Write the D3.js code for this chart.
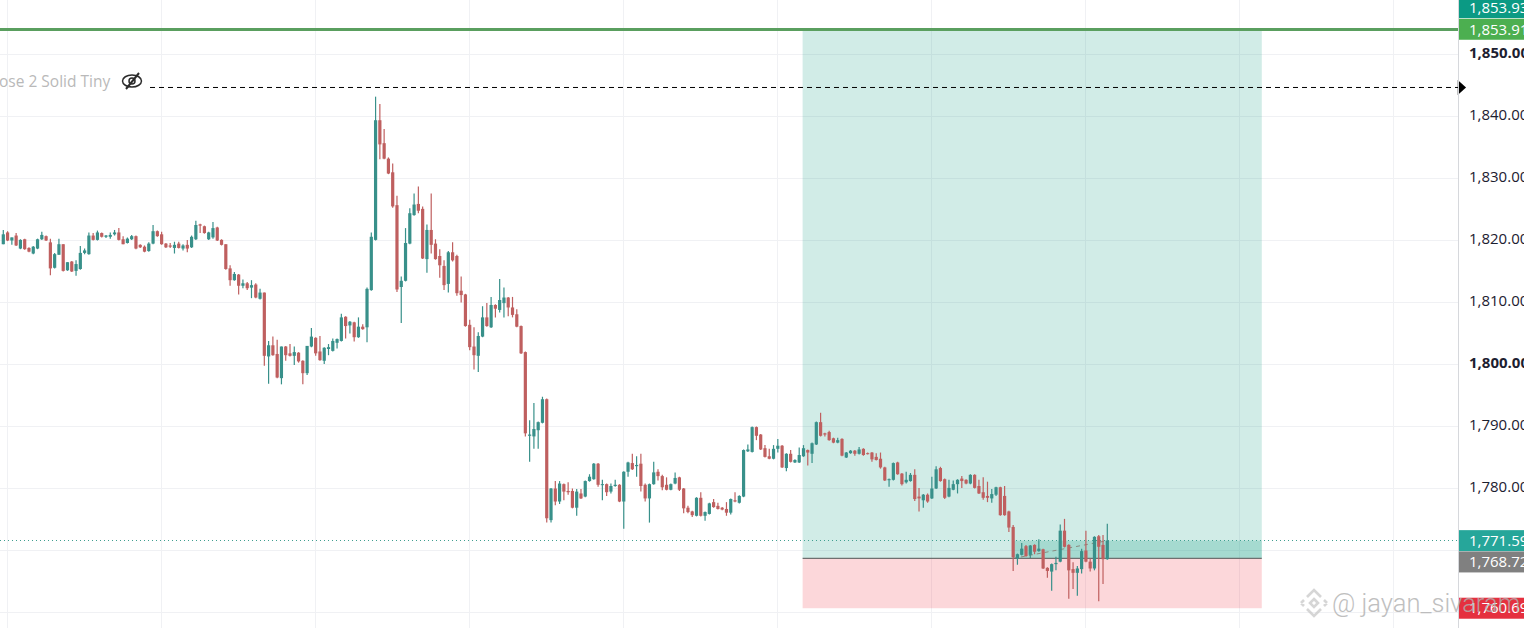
<!DOCTYPE html>
<html>
<head>
<meta charset="utf-8">
<script src="https://cdn.jsdelivr.net/npm/d3@7/dist/d3.min.js"></script>
<style>
html, body { margin: 0; padding: 0; background: #fff; overflow: hidden; }
svg { display: block; font-family: "Open Sans", sans-serif; }
</style>
</head>
<body>
<div id="chart"></div>
<script>
const opens = [
1819.4,1821.3,1820.0,1820.8,1818.7,1820.2,1818.8,1817.9,1818.7,1820.2,
1820.7,1819.7,1815.6,1817.7,1819.4,1815.2,1816.6,1815.1,1815.4,1818.0,
1817.8,1820.8,1820.1,1821.2,1820.6,1820.6,1821.0,1821.3,1820.2,1819.6,
1820.2,1820.7,1819.3,1819.0,1818.3,1819.5,1821.5,1821.0,1819.5,1819.2,
1818.8,1819.5,1818.7,1819.3,1818.9,1820.2,1822.6,1822.3,1820.2,1820.5,
1822.1,1820.1,1819.4,1815.5,1813.6,1814.5,1812.7,1813.1,1812.4,1812.9,
1810.6,1811.6,1801.3,1803.1,1801.7,1797.8,1802.9,1801.8,1801.4,1801.9,
1800.6,1798.6,1802.9,1804.3,1802.1,1800.6,1802.5,1802.2,1803.5,1803.8,
1807.7,1806.3,1806.8,1804.4,1806.1,1806.0,1812.0,1820.1,1839.4,1835.7,
1833.2,1831.0,1825.7,1812.5,1813.5,1819.5,1824.1,1825.9,1825.1,1817.0,
1821.7,1819.5,1817.5,1815.9,1813.0,1818.1,1817.5,1811.9,1811.3,1806.4,
1802.9,1801.4,1804.5,1807.6,1806.0,1809.6,1808.8,1809.9,1810.8,1809.2,
1808.1,1806.2,1802.0,1788.5,1788.4,1789.4,1790.6,1794.4,1774.9,1780.0,
1777.9,1780.7,1779.6,1779.6,1776.9,1779.2,1778.7,1781.2,1781.5,1784.0,
1780.6,1780.7,1779.5,1780.4,1780.6,1777.9,1782.7,1784.1,1783.6,1784.0,
1780.6,1778.4,1780.7,1782.7,1782.0,1780.6,1779.8,1780.8,1781.8,1780.0,
1776.9,1776.3,1775.6,1778.5,1775.6,1775.9,1777.8,1777.2,1776.9,1776.7,
1776.1,1778.1,1777.7,1778.7,1786.0,1785.9,1789.9,1788.7,1786.5,1785.2,
1784.8,1786.4,1786.9,1783.3,1785.6,1784.2,1784.2,1785.2,1786.2,1785.6,
1787.1,1790.7,1788.9,1789.1,1788.1,1787.4,1788.0,1785.0,1785.7,1786.1,
1785.6,1786.4,1785.7,1785.8,1785.1,1784.8,1783.4,1781.4,1781.4,1784.2,
1782.4,1781.0,1781.2,1782.2,1778.7,1778.1,1779.0,1778.4,1780.0,1783.3,
1781.5,1778.7,1779.8,1780.7,1781.6,1781.4,1780.8,1782.2,1780.4,1779.4,
1778.8,1778.4,1779.0,1780.2,1778.8,1776.3,1773.8,1768.7,1769.3,1770.7,
1769.3,1770.9,1769.9,1770.2,1767.2,1766.6,1767.8,1768.2,1773.2,1770.9,
1767.0,1766.4,1767.0,1770.0,1768.2,1767.1,1772.3,1770.9,1768.6];

const highs = [
1821.7,1821.5,1820.5,1821.2,1820.2,1820.3,1818.9,1819.1,1820.3,1821.4,
1820.8,1820.3,1818.0,1820.3,1819.4,1816.5,1816.7,1816.8,1819.1,1818.7,
1821.3,1821.2,1821.6,1821.3,1820.9,1821.3,1821.7,1822.0,1820.7,1820.5,
1820.9,1820.8,1819.4,1819.2,1819.7,1822.5,1821.6,1821.4,1819.6,1819.6,
1819.8,1819.8,1819.4,1820.1,1820.8,1823.2,1822.7,1822.4,1821.4,1823.0,
1822.2,1820.2,1819.4,1816.0,1814.9,1814.6,1813.7,1813.3,1813.6,1813.1,
1812.2,1811.6,1803.8,1804.5,1804.0,1802.9,1803.0,1803.3,1802.9,1802.0,
1800.7,1803.0,1805.9,1804.4,1804.6,1802.8,1803.3,1804.2,1804.2,1808.2,
1807.8,1807.0,1806.9,1807.6,1806.5,1812.4,1821.3,1843.2,1842.0,1838.0,
1833.4,1832.4,1827.2,1814.2,1822.0,1825.2,1827.6,1828.7,1825.5,1822.6,
1827.6,1820.2,1818.6,1816.8,1818.3,1819.7,1817.7,1814.2,1811.4,1807.2,
1806.0,1805.2,1809.4,1809.9,1810.9,1809.7,1813.8,1812.4,1810.9,1810.9,
1808.9,1806.3,1802.1,1791.0,1793.8,1790.8,1794.8,1794.5,1780.1,1781.2,
1781.2,1780.8,1781.0,1780.0,1779.9,1779.9,1781.3,1782.3,1784.1,1784.1,
1781.4,1780.8,1780.8,1781.4,1780.7,1782.8,1784.3,1785.6,1785.2,1785.6,
1780.8,1780.8,1784.3,1783.1,1782.2,1781.8,1780.8,1782.6,1781.9,1780.1,
1777.2,1776.4,1778.6,1779.4,1776.3,1777.7,1778.3,1777.7,1777.0,1777.8,
1778.4,1779.4,1778.9,1786.3,1787.1,1790.0,1790.0,1788.8,1787.0,1786.4,
1787.0,1788.0,1787.0,1785.7,1786.2,1784.7,1786.6,1787.0,1786.3,1787.4,
1790.8,1792.2,1789.0,1789.3,1788.2,1788.2,1788.1,1785.9,1786.2,1786.2,
1786.7,1786.5,1785.8,1785.9,1785.7,1785.8,1783.5,1781.6,1784.2,1784.3,
1782.5,1782.7,1782.5,1783.1,1780.1,1779.1,1779.2,1781.9,1783.6,1783.5,
1781.6,1781.4,1781.3,1781.5,1782.0,1781.5,1782.3,1782.3,1781.4,1781.8,
1781.1,1779.9,1780.3,1780.3,1780.4,1776.4,1774.1,1769.5,1771.2,1770.9,
1770.9,1771.0,1771.8,1770.3,1767.3,1767.9,1769.0,1774.2,1775.1,1771.0,
1768.1,1767.5,1770.3,1773.2,1768.7,1772.3,1772.5,1772.5,1774.3];

const lows = [
1819.4,1819.9,1819.3,1819.1,1818.6,1818.5,1818.1,1817.8,1818.6,1820.1,
1819.9,1814.4,1815.5,1817.7,1815.0,1815.1,1814.9,1814.3,1815.3,1817.8,
1817.7,1820.0,1820.0,1820.5,1820.4,1820.3,1820.8,1820.0,1819.4,1819.5,
1820.1,1818.6,1818.8,1818.1,1818.2,1819.4,1820.6,1819.3,1818.8,1818.8,
1817.9,1818.7,1818.4,1818.1,1818.8,1820.1,1821.2,1821.1,1820.1,1820.3,
1819.9,1819.2,1815.3,1812.7,1813.5,1811.3,1812.3,1812.0,1810.7,1810.7,
1810.5,1799.8,1796.9,1801.4,1797.8,1796.8,1800.6,1801.3,1799.9,1800.3,
1796.8,1798.3,1802.8,1801.4,1800.6,1800.1,1801.5,1802.1,1802.6,1803.7,
1804.2,1805.0,1803.7,1804.3,1805.6,1803.6,1811.9,1820.0,1833.1,1833.1,
1830.7,1825.3,1811.7,1806.7,1813.4,1819.4,1824.0,1824.4,1817.0,1814.8,
1817.9,1816.9,1814.0,1812.0,1811.6,1816.6,1811.1,1810.0,1806.1,1802.3,
1799.2,1798.8,1804.4,1806.1,1805.9,1807.6,1808.4,1807.6,1807.8,1807.6,
1806.0,1801.7,1788.4,1784.3,1786.4,1786.4,1790.5,1774.5,1774.5,1777.3,
1777.5,1778.1,1779.0,1776.8,1775.6,1778.3,1778.6,1781.1,1781.4,1780.3,
1778.1,1778.8,1779.2,1780.3,1777.8,1773.5,1781.9,1783.0,1781.9,1779.5,
1777.9,1774.5,1780.6,1781.3,1779.7,1779.7,1779.7,1780.7,1779.6,1776.0,
1776.0,1775.4,1775.5,1775.5,1774.8,1775.8,1776.9,1776.6,1776.5,1775.6,
1775.8,1777.8,1777.6,1778.6,1785.9,1785.8,1787.8,1786.2,1785.0,1784.7,
1784.7,1785.8,1783.3,1782.8,1784.2,1784.1,1784.1,1785.1,1783.7,1784.1,
1787.0,1788.4,1788.4,1787.7,1787.3,1787.3,1785.2,1784.9,1785.6,1785.3,
1785.5,1785.3,1785.5,1784.3,1784.5,1783.2,1781.2,1780.3,1781.3,1782.2,
1780.5,1780.8,1781.1,1778.0,1776.3,1776.9,1777.7,1778.3,1779.9,1781.1,
1778.3,1778.6,1779.7,1779.2,1780.1,1780.7,1780.7,1780.0,1779.1,1778.2,
1777.8,1777.7,1778.8,1775.6,1775.6,1773.0,1766.7,1767.7,1769.2,1769.0,
1768.8,1769.4,1769.8,1767.0,1765.6,1763.5,1766.8,1768.1,1770.5,1762.2,
1763.8,1762.7,1766.3,1768.1,1766.6,1766.8,1761.8,1764.6,1768.5];

const closes = [
1821.0,1820.0,1820.5,1819.2,1820.1,1818.6,1818.2,1819.0,1820.2,1820.9,
1820.0,1815.5,1817.8,1819.4,1815.1,1816.5,1815.0,1816.2,1818.0,1818.4,
1820.8,1820.1,1821.3,1820.6,1820.8,1820.9,1821.3,1820.1,1819.4,1820.3,
1820.7,1818.7,1818.9,1818.2,1819.5,1821.5,1820.7,1819.4,1818.9,1819.0,
1819.3,1818.8,1819.2,1818.7,1820.6,1822.5,1822.4,1821.2,1821.3,1822.0,
1820.0,1819.3,1815.4,1813.6,1814.6,1812.7,1813.1,1812.3,1812.8,1810.8,
1811.6,1801.4,1803.1,1801.5,1797.9,1802.9,1801.5,1801.4,1802.0,1800.5,
1798.6,1803.0,1804.5,1801.8,1800.7,1802.7,1802.8,1803.8,1804.1,1807.6,
1806.2,1806.9,1804.4,1806.1,1805.7,1812.2,1820.6,1839.4,1835.5,1833.2,
1830.8,1825.5,1812.1,1813.5,1819.6,1824.4,1825.8,1824.8,1817.1,1821.7,
1819.3,1817.0,1816.0,1812.8,1818.1,1816.8,1811.5,1811.2,1806.2,1802.8,
1801.5,1804.6,1807.6,1806.2,1809.6,1809.0,1810.4,1810.8,1809.2,1808.0,
1806.1,1801.8,1788.9,1788.7,1789.6,1790.7,1794.4,1775.2,1780.0,1777.9,
1780.8,1779.5,1779.4,1776.9,1779.5,1778.4,1781.2,1781.9,1784.0,1780.6,
1780.7,1779.4,1780.4,1780.6,1777.9,1782.7,1784.2,1783.1,1783.8,1780.4,
1778.4,1780.7,1782.6,1782.0,1780.2,1779.8,1780.7,1781.7,1779.8,1776.8,
1776.2,1775.7,1778.5,1775.6,1776.2,1777.6,1777.0,1776.7,1776.6,1776.1,
1778.3,1777.9,1778.8,1786.2,1786.3,1789.9,1788.5,1786.3,1785.1,1784.8,
1786.4,1786.9,1783.4,1785.6,1784.3,1784.6,1785.4,1786.5,1785.8,1787.3,
1790.7,1788.5,1788.7,1787.8,1787.4,1787.8,1785.3,1785.8,1786.1,1785.6,
1786.3,1785.4,1785.6,1784.7,1784.6,1783.4,1781.3,1781.5,1784.1,1782.3,
1780.7,1781.4,1782.2,1778.3,1778.4,1779.0,1777.9,1780.0,1783.1,1781.2,
1778.5,1780.1,1780.7,1781.4,1781.2,1780.8,1782.2,1780.1,1779.2,1778.5,
1778.5,1779.1,1780.2,1775.7,1775.7,1773.7,1768.9,1769.4,1770.3,1769.1,
1770.8,1769.8,1770.3,1767.1,1766.7,1767.8,1768.0,1773.2,1770.6,1766.8,
1766.4,1767.1,1769.9,1768.2,1767.1,1772.2,1770.6,1768.6,1771.6];

const priceTicks = [1850, 1840, 1830, 1820, 1810, 1800, 1790, 1780];
const gridPrices = [1850, 1840, 1830, 1820, 1810, 1800, 1790, 1780, 1770, 1760];
const gridBars = [1, 37, 73, 109, 145, 181, 217, 253, 289, 325];

const targetPrice = 1853.91;
const targetPrice2 = 1853.93;
const entryPrice = 1768.72;
const stopPrice = 1760.69;
const lastPrice = 1771.59;
const alertPrice = 1844.68;
const toolStartBar = 186.8;
const toolEndBar = 294.1;
const fillStartBar = 236;

const width = 1524, height = 628, axisX = 1458;
const upColor = "#38908a", downColor = "#bf5f5f";

const x = d3.scaleLinear().domain([0, closes.length - 1]).range([3.3, 1107.3]);
const y = d3.scaleLinear().domain([1850, 1760]).range([54.5, 612.5]);

const svg = d3.select("#chart").append("svg")
    .attr("width", width)
    .attr("height", height);

// grid
const grid = svg.append("g").attr("stroke", "#f0f1f4").attr("stroke-width", 1)
    .attr("shape-rendering", "crispEdges");
grid.selectAll(".h").data(gridPrices).join("line")
    .attr("x1", 0).attr("x2", axisX)
    .attr("y1", d => y(d)).attr("y2", d => y(d));
grid.selectAll(".v").data(gridBars).join("line")
    .attr("x1", d => x(d)).attr("x2", d => x(d))
    .attr("y1", 0).attr("y2", height);

// long position tool
const tool = svg.append("g");
tool.append("rect")
    .attr("x", x(toolStartBar)).attr("width", x(toolEndBar) - x(toolStartBar))
    .attr("y", y(targetPrice)).attr("height", y(entryPrice) - y(targetPrice))
    .attr("fill", "#089981").attr("opacity", 0.19);
tool.append("rect")
    .attr("x", x(toolStartBar)).attr("width", x(toolEndBar) - x(toolStartBar))
    .attr("y", y(entryPrice)).attr("height", y(stopPrice) - y(entryPrice))
    .attr("fill", "#f23645").attr("opacity", 0.2);
tool.append("rect")
    .attr("x", x(fillStartBar)).attr("width", x(toolEndBar) - x(fillStartBar))
    .attr("y", y(lastPrice)).attr("height", y(entryPrice) - y(lastPrice))
    .attr("fill", "#089981").attr("opacity", 0.22);
tool.append("line")
    .attr("x1", x(fillStartBar)).attr("x2", x(closes.length - 1))
    .attr("y1", y(entryPrice)).attr("y2", y(lastPrice))
    .attr("stroke", "#8a8a80").attr("stroke-dasharray", "4 4");
tool.append("line")
    .attr("x1", x(toolStartBar)).attr("x2", x(toolEndBar))
    .attr("y1", y(entryPrice)).attr("y2", y(entryPrice))
    .attr("stroke", "#6f6f6f").attr("stroke-width", 1.2);

// last price line
svg.append("line")
    .attr("x1", 0).attr("x2", axisX)
    .attr("y1", y(lastPrice)).attr("y2", y(lastPrice))
    .attr("stroke", "#3f9f90").attr("stroke-dasharray", "1 3")
    .attr("shape-rendering", "crispEdges");

// candles
const candles = svg.append("g").selectAll("g").data(closes).join("g")
    .attr("fill", (d, i) => d >= opens[i] ? upColor : downColor)
    .attr("stroke", (d, i) => d >= opens[i] ? upColor : downColor);
candles.append("line")
    .attr("x1", (d, i) => x(i)).attr("x2", (d, i) => x(i))
    .attr("y1", (d, i) => y(highs[i])).attr("y2", (d, i) => y(lows[i]))
    .attr("stroke-width", 1.2);
candles.append("rect")
    .attr("x", (d, i) => x(i) - 1.6).attr("width", 3.2)
    .attr("y", (d, i) => y(Math.max(d, opens[i])))
    .attr("height", (d, i) => Math.max(1, Math.abs(y(d) - y(opens[i]))))
    .attr("stroke", "none");

// target line
svg.append("line")
    .attr("x1", 0).attr("x2", axisX)
    .attr("y1", y(targetPrice) - 0.8).attr("y2", y(targetPrice) - 0.8)
    .attr("stroke", "#5a9f5f").attr("stroke-width", 3);

// alert line, hidden indicator text and eye icon
svg.append("line")
    .attr("x1", 150).attr("x2", axisX)
    .attr("y1", y(alertPrice)).attr("y2", y(alertPrice))
    .attr("stroke", "#000").attr("stroke-dasharray", "5 4");
svg.append("text")
    .attr("x", -1).attr("y", 87)
    .attr("font-size", 15.5)
    .attr("fill", "#b9b9b9")
    .text("ose 2 Solid Tiny");
const eye = svg.append("g").attr("transform", "translate(132,81)")
    .attr("fill", "none").attr("stroke", "#2b2b2b").attr("stroke-width", 1.5);
eye.append("ellipse").attr("rx", 9.5).attr("ry", 6);
eye.append("circle").attr("r", 3);
eye.append("line").attr("x1", -6).attr("y1", 8).attr("x2", 7).attr("y2", -8).attr("stroke-width", 2);
svg.append("path")
    .attr("d", d3.symbol(d3.symbolTriangle, 95)())
    .attr("transform", `translate(1460.5,${y(alertPrice)}) rotate(90) scale(1,0.65)`)
    .attr("fill", "#000");

// price axis
svg.append("line")
    .attr("x1", axisX + 0.5).attr("x2", axisX + 0.5)
    .attr("y1", 0).attr("y2", height)
    .attr("stroke", "#d6d8dc");

const yAxis = d3.axisRight(y)
    .tickValues(priceTicks)
    .tickSize(0)
    .tickPadding(11)
    .tickFormat(d3.format(",.2f"));

const axisG = svg.append("g")
    .attr("transform", `translate(${axisX},-1.5)`)
    .attr("font-family", null)
    .call(yAxis);
axisG.attr("font-family", null);
axisG.select(".domain").remove();
axisG.selectAll("text")
    .attr("font-size", 15)
    .attr("fill", "#1c2030")
    .attr("font-weight", d => d % 50 === 0 ? "bold" : "normal");

// price labels on the axis, nudged so they stack
const priceLabels = [
    { price: targetPrice2, color: "#0b9a84", shift: -22.5 },
    { price: targetPrice, color: "#4caf50", shift: -1 },
    { price: lastPrice, color: "#26a69a", shift: 0 },
    { price: entryPrice, color: "#808080", shift: 3.5 },
    { price: stopPrice, color: "#e5303f", shift: 0 }
];
const tags = svg.append("g").selectAll("g").data(priceLabels).join("g")
    .attr("transform", d => `translate(${axisX + 1},${y(d.price) + d.shift})`);
tags.append("rect")
    .attr("x", 0).attr("y", -10.5).attr("width", width - axisX).attr("height", 21)
    .attr("fill", d => d.color);
tags.append("text")
    .attr("x", 10).attr("dy", "0.35em")
    .attr("font-size", 15)
    .attr("fill", "#fff")
    .text(d => d3.format(",.2f")(d.price));

// watermark
const mark = svg.append("g").attr("opacity", 0.8);
const logo = mark.append("g").attr("transform", "translate(1314,603)")
    .attr("fill", "none").attr("stroke", "#cccccc").attr("stroke-width", 2.6);
logo.append("path").attr("d", "M-7,-6 L0,-13 L7,-6");
logo.append("path").attr("d", "M-7,6 L0,13 L7,6");
logo.append("path").attr("d", "M-13,0 L-10,-3 M13,0 L10,-3 M-13,0 L-10,3 M13,0 L10,3");
logo.append("path").attr("d", "M0,-4 L4,0 L0,4 L-4,0 Z");
mark.append("text")
    .attr("x", 1332).attr("y", 612)
    .attr("font-family", "Roboto")
    .style("font-family", "Roboto")
    .attr("font-weight", 300)
    .attr("font-size", 25.5)
    .attr("fill", "#b0b0b0")
    .text("@ jayan_sivaram");
</script>
</body>
</html>
